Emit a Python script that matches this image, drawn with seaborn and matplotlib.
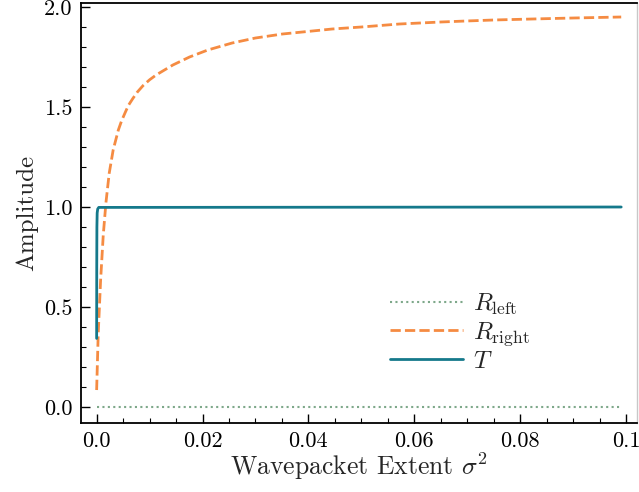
import numpy as np
import pandas as pd
import matplotlib
matplotlib.use("Agg")
import matplotlib.pyplot as plt
import seaborn as sns
from matplotlib.ticker import FixedLocator, FixedFormatter, MultipleLocator

# ---- data ----
sigma_right = [0.00000, 0.00030, 0.00075, 0.00125, 0.00175, 0.00237, 0.00312,
               0.00410, 0.00470, 0.00532, 0.00600, 0.00685, 0.00770, 0.00877,
               0.01000, 0.01123, 0.01440, 0.01755,
               0.02100, 0.02560, 0.03000, 0.03510, 0.04000, 0.04450, 0.05000,
               0.05720, 0.06500, 0.06980, 0.07500, 0.08230, 0.09000, 0.09910]
R_right = [0.085, 0.368, 0.635, 0.860, 1.020, 1.168, 1.285,
           1.385, 1.430, 1.468, 1.508, 1.543, 1.575, 1.607,
           1.636, 1.660, 1.710, 1.750,
           1.785, 1.820, 1.845, 1.865, 1.878, 1.890, 1.900,
           1.915, 1.925, 1.930, 1.935, 1.940, 1.945, 1.950]

sigma_T = [0.00000, 0.00002, 0.00005, 0.00010, 0.00020, 0.00040, 0.09910]
T_vals = [0.343, 0.700, 0.900, 0.970, 0.990, 0.998, 1.000]

sigma_left = [0.00000, 0.09910]
R_left = [0.000, 0.000]

x_ticks = [0.0, 0.02, 0.04, 0.06, 0.08, 0.1]
x_tick_labels = ["0.0", "0.02", "0.04", "0.06", "0.08", "0.1"]
y_ticks = [0.0, 0.5, 1.0, 1.5, 2.0]
y_tick_labels = ["0.0", "0.5", "1.0", "1.5", "2.0"]

sns.set_theme(style="ticks")
plt.rcParams.update({
    "font.family": ["cmr10", "DejaVu Serif"],
    "mathtext.fontset": "cm",
    "axes.unicode_minus": False,
    "axes.formatter.use_mathtext": True,
})

fig = plt.figure(figsize=(6.39, 4.92), dpi=100)
ax = fig.add_axes([0.1268, 0.1402, 0.8702, 0.8537])

df_left = pd.DataFrame({"x": sigma_left, "y": R_left})
df_right = pd.DataFrame({"x": sigma_right, "y": R_right})
df_T = pd.DataFrame({"x": sigma_T, "y": T_vals})

sns.lineplot(data=df_left, x="x", y="y", ax=ax, color="#7ea88a", lw=1.5,
             linestyle=(0, (1, 1.6)), label=r"$R_{\rm left}$")
sns.lineplot(data=df_right, x="x", y="y", ax=ax, color="#f58b42", lw=2.0,
             linestyle=(0, (3.7, 1.5)), label=r"$R_{\rm right}$")
sns.lineplot(data=df_T, x="x", y="y", ax=ax, color="#15798b", lw=2.0,
             label=r"$T$")

ax.set_xlim(-0.00295, 0.1021)
ax.set_ylim(-0.08, 2.02)
ax.xaxis.set_major_locator(FixedLocator(x_ticks))
ax.xaxis.set_major_formatter(FixedFormatter(x_tick_labels))
ax.yaxis.set_major_locator(FixedLocator(y_ticks))
ax.yaxis.set_major_formatter(FixedFormatter(y_tick_labels))
ax.xaxis.set_minor_locator(MultipleLocator(0.005))
ax.yaxis.set_minor_locator(MultipleLocator(0.1))
ax.tick_params(which="both", direction="in", colors="black", labelsize=16)
ax.tick_params(which="major", length=6.5, width=1.0, pad=6)
ax.tick_params(which="minor", length=3.5, width=0.8)

for s in ["left", "bottom", "top"]:
    ax.spines[s].set_color("black")
    ax.spines[s].set_linewidth(1.3)
ax.spines["right"].set_color("#c8c8c8")
ax.spines["right"].set_linewidth(1.0)

ax.set_xlabel(r"Wavepacket Extent $\sigma^2$", fontsize=18.5, labelpad=0)
ax.set_ylabel("Amplitude", fontsize=18, labelpad=4)

leg = ax.legend(loc="lower left", bbox_to_anchor=(0.538, 0.095), frameon=False,
                fontsize=18, handlelength=2.9, labelspacing=0.12,
                handletextpad=0.4, borderaxespad=0.0)

fig.savefig("out.png", dpi=100)
